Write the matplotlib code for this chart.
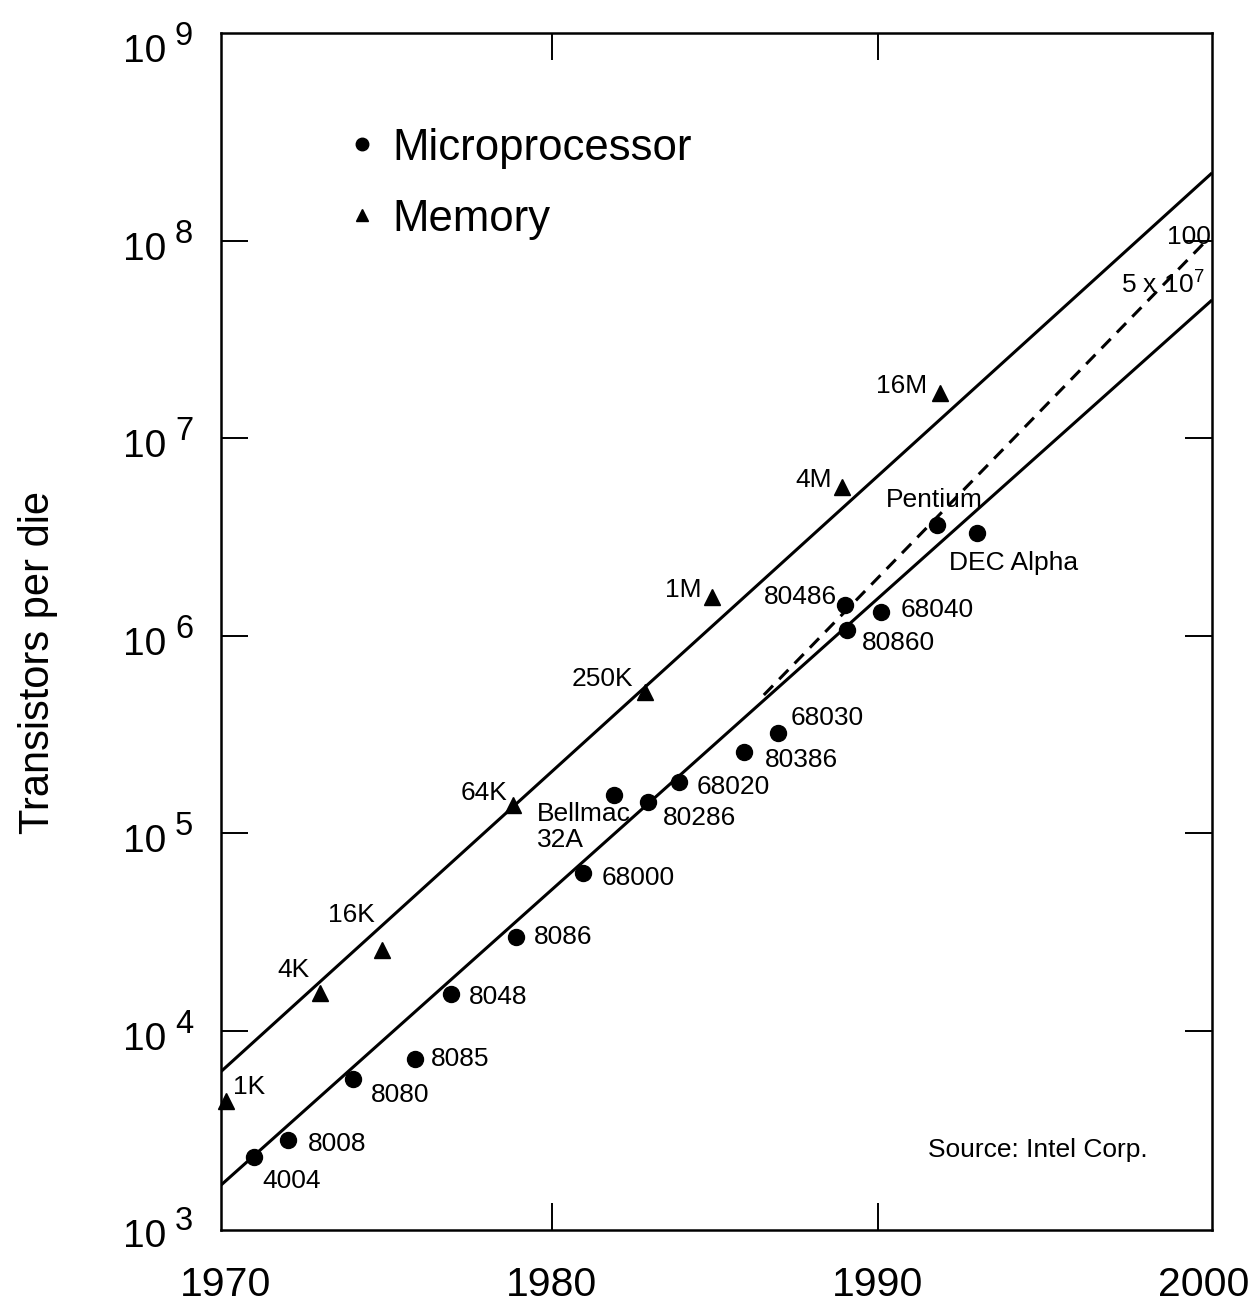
import matplotlib
matplotlib.use('Agg')
import matplotlib.pyplot as plt
from matplotlib.lines import Line2D
from matplotlib.ticker import NullLocator

plt.rcParams['font.family'] = ['Liberation Sans', 'DejaVu Sans']
plt.rcParams['mathtext.fontset'] = 'custom'
plt.rcParams['mathtext.rm'] = 'Liberation Sans'
plt.rcParams['mathtext.it'] = 'Liberation Sans:italic'
plt.rcParams['mathtext.bf'] = 'Liberation Sans:bold'

# ---------------- data ----------------
mem_labels = ['1K', '4K', '16K', '64K', '250K', '1M', '4M', '16M']
mem_years = [1970.0, 1972.9, 1974.8, 1978.8, 1982.85, 1984.9, 1988.9, 1991.9]
mem_counts = [4.4e3, 1.55e4, 2.56e4, 1.39e5, 5.2e5, 1.57e6, 5.65e6, 1.69e7]

cpu_labels = ['4004', '8008', '8080', '8085', '8048', '8086', '68000',
              'Bellmac\n32A', '80286', '68020', '80386', '68030', '80486',
              '80860', '68040', 'Pentium', 'DEC Alpha']
cpu_years = [1970.85, 1971.9, 1973.9, 1975.8, 1976.9, 1978.9, 1980.95,
             1981.9, 1982.95, 1983.9, 1985.9, 1986.95, 1989.0,
             1989.05, 1990.1, 1991.8, 1993.05]
cpu_counts = [2.3e3, 2.8e3, 5.7e3, 7.2e3, 1.53e4, 2.97e4, 6.27e4,
              1.56e5, 1.44e5, 1.81e5, 2.57e5, 3.2e5, 1.43e6,
              1.07e6, 1.31e6, 3.62e6, 3.3e6]

mem_trend_years = [1969.85, 2000.25]
mem_trend = [6.2e3, 2.2e8]
cpu_trend_years = [1969.85, 2000.25]
cpu_trend = [1.65e3, 5.0e7]
proj_years = [1986.5, 2000.0]
proj = [5.0e5, 9.7e7]

x_ticks = [1970, 1980, 1990, 2000]
y_exponents = [3, 4, 5, 6, 7, 8, 9]

# label offsets (pixels: dx right, dy up) and alignment
mem_offsets = [(7, 14, 'left'), (-11, 23, 'right'), (-8, 35, 'right'),
               (-5, 12, 'right'), (-12, 13, 'right'), (-10, 7, 'right'),
               (-10, 7, 'right'), (-13, 7, 'right')]
cpu_offsets = [(9, -24, 'left'), (20, -4, 'left'), (18, -16, 'left'),
               (16, 0, 'left'), (18, -3, 'left'), (18, 0, 'left'),
               (19, -5, 'left'), (-77, -32, 'left'), (15, -16, 'left'),
               (18, -5, 'left'), (21, -8, 'left'), (12, 15, 'left'),
               (-8, 8, 'right'), (15, -13, 'left'), (19, 2, 'left'),
               (-2, 25, 'center'), (-28, -30, 'left')]

# ---------------- figure ----------------
fig = plt.figure(figsize=(12.58, 13.02), dpi=100, facecolor='white')
ax = fig.add_axes([0.1757, 0.0553, 0.7878, 0.9194])
ax.set_facecolor('white')
ax.set_yscale('log')
ax.set_xlim(1969.85, 2000.25)
ax.set_ylim(10 ** 2.99, 10 ** 9.051)

ax.plot(mem_trend_years, mem_trend, color='black', lw=2.2, solid_capstyle='butt')
ax.plot(cpu_trend_years, cpu_trend, color='black', lw=2.2, solid_capstyle='butt')
ax.plot(proj_years, proj, color='black', lw=2.2, ls='--', dashes=(4.3, 2.9))

ax.plot(cpu_years, cpu_counts, ls='none', marker='o', ms=11.5, color='black',
        clip_on=False, zorder=3)
ax.plot(mem_years, mem_counts, ls='none', marker='^', ms=12, color='black',
        clip_on=False, zorder=3)

lab_fs = 19
for lab, xv, yv, (dx, dy, ha) in zip(mem_labels, mem_years, mem_counts, mem_offsets):
    ax.annotate(lab, (xv, yv), xytext=(dx, dy), textcoords='offset pixels',
                ha=ha, va='center', fontsize=lab_fs)
for lab, xv, yv, (dx, dy, ha) in zip(cpu_labels, cpu_years, cpu_counts, cpu_offsets):
    ax.annotate(lab, (xv, yv), xytext=(dx, dy), textcoords='offset pixels',
                ha=ha, va='center', fontsize=lab_fs, linespacing=1.1)

ax.annotate(r'5 x 10$^7$', (cpu_trend_years[1], cpu_trend[1]), xytext=(-8, 15),
            textcoords='offset pixels', ha='right', va='center', fontsize=19,
            annotation_clip=False)
ax.annotate('100', (proj_years[1], proj[1]), xytext=(-37, 6),
            textcoords='offset pixels', ha='left', va='center', fontsize=19,
            annotation_clip=False)

ax.text(0.7134, 0.0668, 'Source: Intel Corp.', transform=ax.transAxes,
        ha='left', va='center', fontsize=lab_fs)

# ticks
ax.set_xticks(x_ticks)
ax.set_xticklabels([str(t) for t in x_ticks])
ax.set_yticks([10.0 ** e for e in y_exponents])
ax.set_yticklabels(['' for e in y_exponents])
ax.yaxis.set_minor_locator(NullLocator())
ax.xaxis.set_minor_locator(NullLocator())
ax.tick_params(axis='x', direction='in', length=19.5, width=1.4, top=True,
               labeltop=False, pad=26, labelsize=29.5)
ax.tick_params(axis='y', direction='in', length=19.5, width=1.4, right=True,
               labelright=False)
for i in (0, len(x_ticks) - 1):
    t = ax.xaxis.get_major_ticks()[i]
    t.tick1line.set_visible(False)
    t.tick2line.set_visible(False)
for i in (0, len(y_exponents) - 1):
    t = ax.yaxis.get_major_ticks()[i]
    t.tick1line.set_visible(False)
    t.tick2line.set_visible(False)

# y tick labels as "10" with a large raised exponent
ytr = ax.get_yaxis_transform()
for e in y_exponents:
    ax.annotate('10', (0, 10.0 ** e), xycoords=ytr, xytext=(-55, -19),
                textcoords='offset pixels', ha='right', va='baseline',
                fontsize=28, annotation_clip=False)
    ax.annotate(str(e), (0, 10.0 ** e), xycoords=ytr, xytext=(-28, -2),
                textcoords='offset pixels', ha='right', va='baseline',
                fontsize=23.5, annotation_clip=False)

for s in ax.spines.values():
    s.set_linewidth(1.8)

ax.set_ylabel('Transistors per die', fontsize=30)
ax.yaxis.set_label_coords(-0.165, 0.4737)

handles = [Line2D([], [], ls='none', marker='o', ms=9, color='black'),
           Line2D([], [], ls='none', marker='^', ms=9, color='black')]
ax.legend(handles, ['Microprocessor', 'Memory'], loc='upper left',
          bbox_to_anchor=(0.131, 0.921), frameon=False, fontsize=31.5,
          handlelength=0.5, handletextpad=0.45, borderpad=0, borderaxespad=0,
          labelspacing=0.69)

fig.savefig('out.png', dpi=100, facecolor='white')
